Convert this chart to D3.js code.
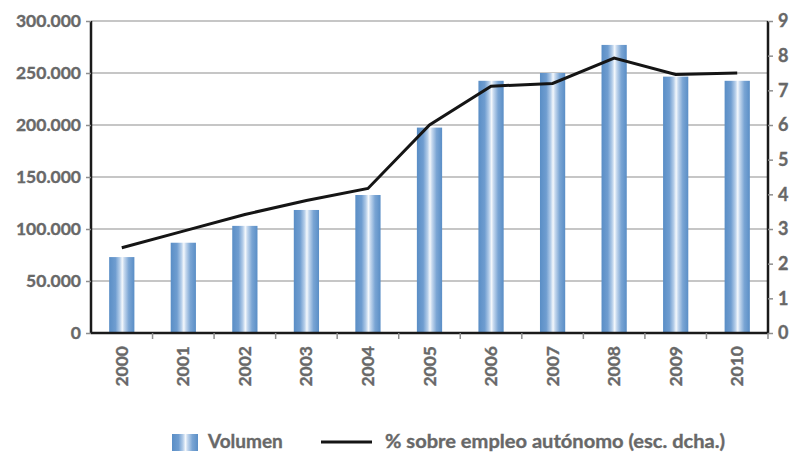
<!DOCTYPE html>
<meta charset="utf-8">
<title>Volumen</title>
<head>
  <script src="https://d3js.org/d3.v7.min.js"></script>
  <style>
    body { margin: 0; background: #fff; }
    text { font-family: Lato, "Open Sans", sans-serif; font-weight: bold; fill: #686868; stroke: #686868; stroke-width: 0.35px; }
  </style>
</head>
<body>
<div id="chart"></div>
<script>
// data
var years = ["2000","2001","2002","2003","2004","2005","2006","2007","2008","2009","2010"];
var volumen = [73000, 86800, 103000, 118300, 132700, 197500, 242500, 250000, 277000, 246500, 242500];
var pctAutonomo = [2.46, 2.94, 3.42, 3.82, 4.17, 6.0, 7.12, 7.2, 7.93, 7.46, 7.5];
var leftTicks = [0, 50000, 100000, 150000, 200000, 250000, 300000];
var rightTicks = [0, 1, 2, 3, 4, 5, 6, 7, 8, 9];

var W = 796, H = 453;
var margin = {top: 21, right: 28, bottom: 120, left: 91},
    width = W - margin.left - margin.right,
    height = H - margin.top - margin.bottom;

var svgRoot = d3.select("#chart").append("svg")
    .attr("width", W).attr("height", H);

var defs = svgRoot.append("defs");
var grad = defs.append("linearGradient").attr("id", "barGrad")
    .attr("x1", "0%").attr("x2", "100%").attr("y1", "0%").attr("y2", "0%");
[[0, "#5a8ec6"], [0.25, "#6f9dd0"], [0.42, "#b4cde9"], [0.52, "#f4f8fc"], [0.6, "#c5d8ee"], [0.78, "#7aa5d4"], [1, "#5a8ec6"]]
  .forEach(function(s) { grad.append("stop").attr("offset", s[0]).attr("stop-color", s[1]); });

var svg = svgRoot.append("g")
    .attr("transform", "translate(" + margin.left + "," + margin.top + ")");

var x = d3.scaleBand().domain(years).range([0, width]).paddingInner(0).paddingOuter(0);
var y = d3.scaleLinear().domain([0, 300000]).range([height, 0]);
var y2 = d3.scaleLinear().domain([0, 9]).range([height, 0]);

// gridlines
svg.selectAll("line.grid")
  .data(leftTicks.filter(function(d) { return d > 0; }))
  .enter().append("line")
    .attr("class", "grid")
    .attr("x1", 0).attr("x2", width)
    .attr("y1", function(d) { return y(d); })
    .attr("y2", function(d) { return y(d); })
    .attr("stroke", "#8e8e8e").attr("stroke-width", 1.2);

// bars
var barW = x.bandwidth() * 0.41;
svg.selectAll("rect.bar")
  .data(years)
  .enter().append("rect")
    .attr("class", "bar")
    .attr("x", function(d) { return x(d) + x.bandwidth() / 2 - barW / 2; })
    .attr("y", function(d, i) { return y(volumen[i]); })
    .attr("width", barW)
    .attr("height", function(d, i) { return height - y(volumen[i]); })
    .attr("fill", "url(#barGrad)");

// line
var line = d3.line()
    .x(function(d, i) { return x(years[i]) + x.bandwidth() / 2; })
    .y(function(d) { return y2(d); });
svg.append("path")
    .datum(pctAutonomo)
    .attr("d", line)
    .attr("fill", "none")
    .attr("stroke", "#151515")
    .attr("stroke-width", 3);

// left axis
var yAxis = svg.append("g")
    .call(d3.axisLeft(y).tickValues(leftTicks).tickSize(5).tickPadding(5)
      .tickFormat(function(d) { return d3.format(",")(d).replace(/,/g, "."); }));
yAxis.select(".domain").attr("stroke", "#1a1a1a").attr("stroke-width", 2.5).attr("d", "M0," + height + "V0");
yAxis.selectAll(".tick line").attr("stroke", "#8e8e8e").attr("stroke-width", 1.5);
yAxis.selectAll(".tick text").style("font-size", "17.5px");

// right axis
var yAxis2 = svg.append("g")
    .attr("transform", "translate(" + width + ",0)")
    .call(d3.axisRight(y2).tickValues(rightTicks).tickSize(5).tickPadding(5));
yAxis2.select(".domain").attr("stroke", "#1a1a1a").attr("stroke-width", 2.5).attr("d", "M0," + height + "V0");
yAxis2.selectAll(".tick line").attr("stroke", "#8e8e8e").attr("stroke-width", 1.5);
yAxis2.selectAll(".tick text").style("font-size", "18px");

// bottom axis
var xAxis = svg.append("g")
    .attr("transform", "translate(0," + height + ")");
xAxis.append("line")
    .attr("x1", 0).attr("x2", width).attr("y1", 0).attr("y2", 0)
    .attr("stroke", "#1a1a1a").attr("stroke-width", 2.5);
xAxis.selectAll("line.sep")
  .data(years.slice(1).concat(["end"]))
  .enter().append("line")
    .attr("x1", function(d) { return d === "end" ? width : x(d); })
    .attr("x2", function(d) { return d === "end" ? width : x(d); })
    .attr("y1", 0).attr("y2", 6)
    .attr("stroke", "#8e8e8e").attr("stroke-width", 1.5);
xAxis.selectAll("text.year")
  .data(years)
  .enter().append("text")
    .attr("class", "year")
    .attr("transform", function(d) {
      return "translate(" + (x(d) + x.bandwidth() / 2 + 6) + ",13) rotate(-90)";
    })
    .attr("text-anchor", "end")
    .style("font-size", "17.5px")
    .text(function(d) { return d; });

// legend
var legend = svgRoot.append("g");
legend.append("rect")
    .attr("x", 172).attr("y", 434).attr("width", 26).attr("height", 17)
    .attr("fill", "url(#barGrad)");
legend.append("text")
    .attr("x", 208).attr("y", 448)
    .style("font-size", "19px")
    .text("Volumen");
legend.append("line")
    .attr("x1", 321).attr("x2", 372).attr("y1", 442).attr("y2", 442)
    .attr("stroke", "#151515").attr("stroke-width", 3);
legend.append("text")
    .attr("x", 385).attr("y", 448)
    .attr("textLength", 340).attr("lengthAdjust", "spacingAndGlyphs")
    .style("font-size", "19px")
    .text("% sobre empleo autónomo (esc. dcha.)");
</script>
</body>
